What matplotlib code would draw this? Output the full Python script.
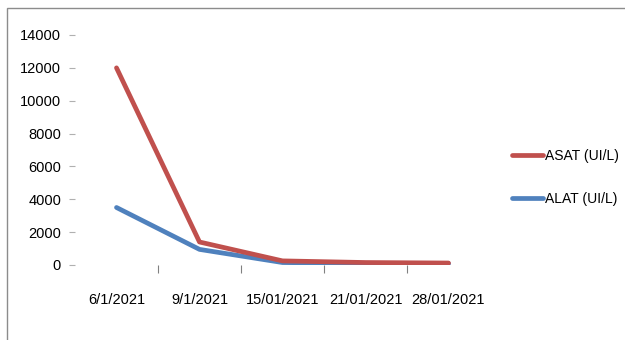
import matplotlib
matplotlib.use("Agg")
import matplotlib.pyplot as plt
from matplotlib.patches import Rectangle

# enzyme levels over the follow-up dates
dates = ["6/1/2021", "9/1/2021", "15/01/2021", "21/01/2021", "28/01/2021"]
asat = [12000, 1400, 250, 150, 120]
alat = [3500, 950, 150, 100, 80]
yticks = [0, 2000, 4000, 6000, 8000, 10000, 12000, 14000]

plt.rcParams["font.family"] = ["Liberation Sans", "DejaVu Sans"]

fig = plt.figure(figsize=(6.25, 3.4), dpi=100)
ax = fig.add_axes([0.12, 0.2206, 0.664, 0.6765])

x = list(range(len(dates)))
ax.plot(x, asat, color="#C0504D", lw=3.4, solid_capstyle="round", label="ASAT (UI/L)", zorder=3)
ax.plot(x, alat, color="#4F81BD", lw=3.4, solid_capstyle="round", label="ALAT (UI/L)", zorder=2)

ax.set_xlim(-0.5, len(dates) - 0.5)
ax.set_ylim(0, 14000)
ax.set_yticks(yticks)
ax.set_yticklabels([str(v) for v in yticks], fontsize=10.5)
ax.set_xticks(x)
ax.set_xticklabels(dates, fontsize=10.5)
ax.tick_params(axis="x", which="major", length=0, pad=20)
ax.set_xticks([i + 0.5 for i in x[:-1]], minor=True)
ax.tick_params(axis="x", which="minor", length=6, color="#808080", width=0.8)
ax.tick_params(axis="y", length=4, color="#b0b0b0", width=0.8, pad=6)
for s in ax.spines.values():
    s.set_visible(False)

ax.legend(loc="center left", bbox_to_anchor=(1.053, 0.38), frameon=False,
          fontsize=10, handlelength=2.2, handletextpad=0.15, labelspacing=2.1,
          borderaxespad=0, borderpad=0)

# outer chart border
fig.patches.append(Rectangle((7 / 625, -0.01), 1.0, 1 - 8 / 340 + 0.01,
                             transform=fig.transFigure, fill=False,
                             edgecolor="#8c8c8c", lw=1.0))

fig.savefig("out.png", dpi=100)
